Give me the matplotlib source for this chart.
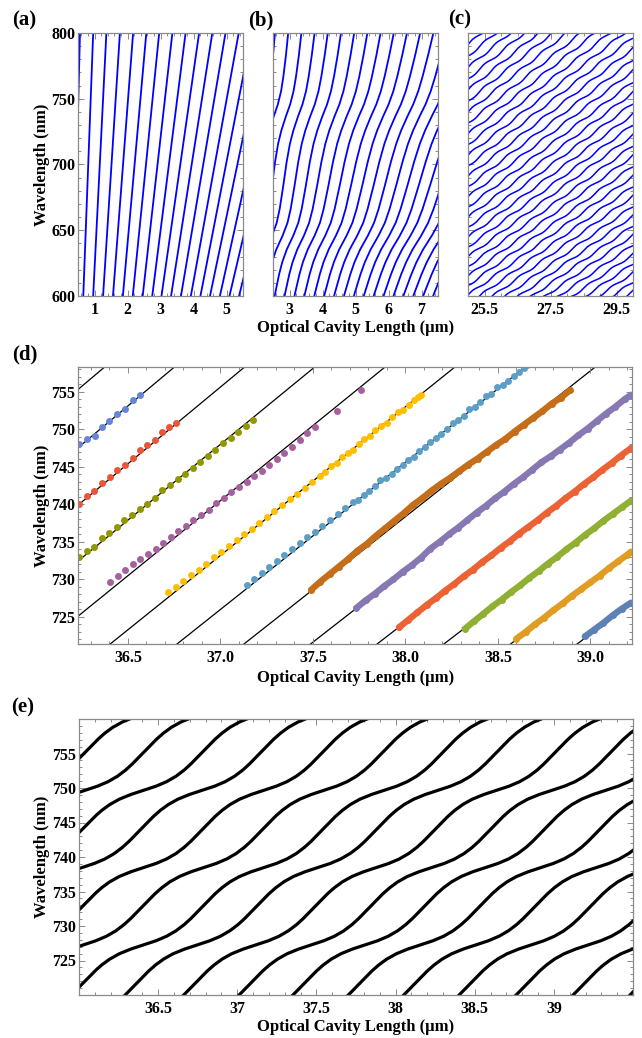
import numpy as np
import matplotlib.pyplot as plt
from matplotlib.ticker import MultipleLocator, FixedLocator, FixedFormatter

plt.rcParams['font.family'] = ['Liberation Serif', 'DejaVu Serif']
plt.rcParams['font.weight'] = 'bold'

# ---------------------------------------------------------------- data
# (a) bare cavity modes: optical length (um) where each mode sits at 600 nm / 800 nm
a_L600 = [0.36, 0.66, 0.96, 1.26, 1.56, 1.86, 2.16, 2.46, 2.75, 3.03, 3.32, 3.62,
          3.92, 4.21, 4.50, 4.80, 5.09, 5.38]
a_L800 = [0.56, 0.96, 1.36, 1.77, 2.17, 2.57, 2.96, 3.36, 3.76, 4.17, 4.57, 4.97,
          5.37, 5.76, 6.16, 6.56, 6.96, 7.36]

# (b) same modes over 2.5-7.5 um, plus the shift picked up at the two resonances
b_L600 = [1.86, 2.16, 2.46, 2.76, 3.06, 3.36, 3.66, 3.96, 4.26, 4.56, 4.86, 5.16,
          5.46, 5.76, 6.06, 6.36, 6.66, 6.96, 7.26, 7.56, 7.86, 8.16]
b_L800 = [2.56, 2.96, 3.36, 3.76, 4.16, 4.56, 4.96, 5.36, 5.76, 6.16, 6.56, 6.96,
          7.36, 7.76, 8.16, 8.56, 8.96, 9.36, 9.76, 10.16, 10.56, 10.96]
b_jog_lam = [595, 600, 615, 625, 635, 645, 655, 665, 680, 700, 715, 725, 735, 745,
             755, 765, 780, 805]
b_jog_dL = [-0.81, -0.81, -0.78, -0.74, -0.66, -0.53, -0.43, -0.39, -0.37, -0.36,
            -0.33, -0.28, -0.20, -0.10, -0.04, -0.015, 0.0, 0.0]

# (c) wavy modes, wavelength at L = 25 um and L = 30 um
c_lam_left = [800.0, 791.2, 782.5, 773.8, 765.2, 756.7, 748.3, 739.9, 731.6, 723.4,
              715.2, 707.1, 699.1, 691.2, 683.3, 675.5, 667.7, 660.0, 652.4, 644.8,
              637.3, 629.9, 622.5, 615.2, 608.0, 600.8, 593.7, 586.6, 579.6, 572.7,
              565.8, 559.0, 552.2, 545.5, 538.9, 532.3, 525.8, 519.3]
c_lam_right = [905.0, 895.5, 886.2, 876.9, 867.6, 858.5, 849.5, 840.5, 831.5, 822.8,
               813.9, 805.3, 796.7, 788.2, 779.7, 771.3, 762.9, 754.7, 746.5, 738.3,
               730.3, 722.3, 714.4, 706.6, 698.8, 691.1, 683.5, 675.9, 668.3, 660.9,
               653.5, 646.2, 638.9, 631.7, 624.6, 617.6, 610.6, 603.6]
c_period_L = 0.70
c_wave_amp = 0.6

# one period of the wiggle: fraction along L vs. wavelength deviation (fraction of period)
wave_f = [0, 0.105, 0.197, 0.276, 0.342, 0.395, 0.447, 0.5, 0.553, 0.605, 0.658,
          0.724, 0.803, 0.895, 1.0]
wave_dev = [0, -0.069, -0.112, -0.124, -0.110, -0.0825, -0.041, 0, 0.041, 0.0825,
            0.110, 0.124, 0.112, 0.069, 0]

# (d) cavity mode lines: wavelength at L = 36.0 and 39.5 um
d_line_lam36 = [750.5, 742.8, 735.2, 727.8, 720.5, 713.4, 706.4, 699.5, 692.8, 686.2,
                679.7, 673.4, 667.1]
d_line_lam395 = [823.5, 815.0, 806.7, 798.5, 790.5, 782.7, 775.0, 767.5, 760.1, 752.9,
                 745.8, 738.8, 732.0]

# (d) measured points
d_blue_L = [36.235, 36.280, 36.320, 36.360, 36.400, 36.440, 36.485, 36.525, 36.565]
d_blue_lam = [748.0, 748.7, 749.1, 750.3, 751.1, 752.1, 752.7, 753.9, 754.6]

d_red_L = [36.235, 36.277, 36.318, 36.361, 36.403, 36.442, 36.485, 36.525, 36.565,
           36.605, 36.645, 36.684, 36.724, 36.760]
d_red_lam = [740.1, 741.1, 741.8, 742.9, 743.7, 744.6, 745.3, 746.2, 747.3, 747.9,
             748.6, 749.7, 750.3, 750.9]

d_olive_L = [36.235, 36.276, 36.317, 36.358, 36.399, 36.440, 36.481, 36.522, 36.563,
             36.604, 36.645, 36.686, 36.727, 36.768, 36.809, 36.850, 36.891, 36.932,
             36.973, 37.014, 37.055, 37.096, 37.137, 37.175]
d_olive_lam = [733.0, 733.8, 734.3, 735.5, 736.2, 737.0, 737.9, 738.6, 739.4, 740.0,
               740.9, 741.9, 742.6, 743.4, 744.1, 744.8, 745.6, 746.4, 747.3, 748.2,
               748.9, 749.6, 750.4, 751.3]

d_magenta_L = [36.403, 36.444, 36.485, 36.526, 36.567, 36.608, 36.649, 36.690, 36.731,
               36.772, 36.813, 36.854, 36.895, 36.936, 36.977, 37.018, 37.059, 37.100,
               37.141, 37.182, 37.223, 37.264, 37.305, 37.346, 37.387, 37.428, 37.469,
               37.510, 37.630, 37.760]
d_magenta_lam = [729.7, 730.5, 731.2, 732.0, 732.7, 733.4, 734.1, 734.9, 735.7, 736.4,
                 737.1, 737.9, 738.6, 739.3, 740.2, 740.8, 741.6, 742.3, 743.0, 743.8,
                 744.5, 745.3, 746.0, 746.9, 747.7, 748.6, 749.5, 750.3, 752.5, 755.2]

d_gold_L = [36.718, 36.759, 36.800, 36.841, 36.882, 36.923, 36.964, 37.005, 37.046,
            37.087, 37.128, 37.169, 37.210, 37.251, 37.292, 37.333, 37.374, 37.415,
            37.456, 37.497, 37.538, 37.568, 37.598, 37.628, 37.658, 37.688, 37.718,
            37.748, 37.778, 37.808, 37.838, 37.868, 37.898, 37.928, 37.958, 37.988,
            38.018, 38.048, 38.070, 38.086]
d_gold_lam = [728.3, 729.0, 729.8, 730.6, 731.3, 732.1, 733.0, 733.7, 734.5, 735.2,
              736.0, 736.7, 737.5, 738.3, 739.1, 739.9, 740.7, 741.4, 742.2, 743.0,
              743.8, 744.3, 745.1, 745.5, 746.3, 746.9, 747.3, 748.1, 748.7, 749.1,
              749.9, 750.5, 750.9, 751.7, 752.3, 752.6, 753.2, 753.9, 754.3, 754.6]

d_ltblue_L = [37.141, 37.182, 37.223, 37.264, 37.305, 37.346, 37.387, 37.428, 37.469,
              37.510, 37.551, 37.592, 37.633, 37.674, 37.715, 37.745, 37.775, 37.805,
              37.835, 37.865, 37.895, 37.925, 37.955, 37.985, 38.015, 38.045, 38.075,
              38.105, 38.135, 38.165, 38.195, 38.225, 38.255, 38.285, 38.315, 38.345,
              38.375, 38.405, 38.435, 38.465, 38.495, 38.525, 38.555, 38.585, 38.615,
              38.640, 38.655]
d_ltblue_lam = [729.3, 730.1, 730.9, 731.6, 732.4, 733.2, 734.0, 734.8, 735.6, 736.3,
                737.1, 737.9, 738.7, 739.5, 740.3, 740.6, 741.2, 741.8, 742.4, 743.2,
                743.5, 744.1, 744.7, 745.3, 745.9, 746.3, 747.1, 747.7, 748.3, 748.9,
                749.4, 750.0, 750.9, 751.2, 751.8, 752.7, 753.0, 753.6, 754.5, 754.7,
                755.6, 755.9, 756.5, 757.1, 757.7, 758.2, 758.5]

d_brown_L = [37.49, 37.54, 37.59, 37.64, 37.69, 37.74, 37.79, 37.84, 37.89, 37.94,
             37.99, 38.04, 38.09, 38.14, 38.19, 38.24, 38.29, 38.34, 38.39, 38.44,
             38.49, 38.54, 38.59, 38.64, 38.69, 38.74, 38.79, 38.84, 38.89]
d_brown_lam = [728.6, 729.7, 730.7, 731.7, 732.7, 733.8, 734.7, 735.8, 736.8, 737.8,
               738.8, 739.9, 740.8, 741.8, 742.7, 743.5, 744.4, 745.3, 746.1, 747.0,
               747.9, 748.7, 749.7, 750.6, 751.5, 752.4, 753.4, 754.2, 755.2]

d_purple_L = [37.735, 37.785, 37.835, 37.885, 37.935, 37.985, 38.035, 38.085, 38.135,
              38.185, 38.235, 38.285, 38.335, 38.385, 38.435, 38.485, 38.535, 38.585,
              38.635, 38.685, 38.735, 38.785, 38.835, 38.885, 38.935, 38.985, 39.035,
              39.085, 39.135, 39.185, 39.22]
d_purple_lam = [726.2, 727.2, 728.1, 729.1, 730.0, 731.0, 731.9, 732.9, 734.1, 735.0,
                736.0, 736.9, 737.9, 738.9, 739.8, 740.8, 741.7, 742.7, 743.6, 744.6,
                745.6, 746.4, 747.3, 748.2, 749.2, 750.1, 751.1, 752.1, 753.0, 754.0,
                754.6]

d_orred_L = [37.965, 38.015, 38.065, 38.115, 38.165, 38.215, 38.265, 38.315, 38.365,
             38.415, 38.465, 38.515, 38.565, 38.615, 38.665, 38.715, 38.765, 38.815,
             38.865, 38.915, 38.965, 39.015, 39.065, 39.115, 39.165, 39.22]
d_orred_lam = [723.6, 724.6, 725.6, 726.6, 727.5, 728.5, 729.4, 730.4, 731.3, 732.3,
               733.2, 734.2, 735.1, 736.1, 737.0, 737.9, 738.9, 739.8, 740.8, 741.7,
               742.7, 743.6, 744.6, 745.5, 746.5, 747.5]

d_green_L = [38.32, 38.37, 38.42, 38.47, 38.52, 38.57, 38.62, 38.67, 38.72, 38.77,
             38.82, 38.87, 38.92, 38.97, 39.02, 39.07, 39.12, 39.17, 39.22]
d_green_lam = [723.4, 724.4, 725.4, 726.4, 727.3, 728.3, 729.2, 730.2, 731.1, 732.1,
               733.0, 734.0, 734.9, 735.9, 736.8, 737.8, 738.7, 739.6, 740.5]

d_orange_L = [38.60, 38.65, 38.70, 38.75, 38.80, 38.85, 38.90, 38.95, 39.00, 39.05,
              39.10, 39.15, 39.20, 39.22]
d_orange_lam = [722.1, 723.0, 724.0, 724.9, 725.9, 726.8, 727.8, 728.7, 729.6, 730.5,
                731.5, 732.4, 733.3, 733.7]

d_steel_L = [38.97, 39.02, 39.07, 39.12, 39.17, 39.22]
d_steel_lam = [722.4, 723.3, 724.2, 725.2, 726.1, 726.9]

# (e) coupled-mode curves: L of each curve's flat point on the 738.4 nm band
e_center_L = [34.53, 34.90, 35.27, 35.64, 36.01, 36.40, 36.78, 37.16, 37.50, 37.87,
              38.22, 38.56, 38.91, 39.26, 39.61, 39.97, 40.33, 40.69]
e_band_lam = 738.4
e_period_lam = 11.2
e_period_L = 0.76
e_wave_amp = 0.75

# ---------------------------------------------------------------- figure
W, H = 642, 1038
fig = plt.figure(figsize=(W / 100, H / 100), dpi=100)


def box(l, t, r, b):
    return [l / W, 1 - b / H, (r - l) / W, (b - t) / H]


def wave(f):
    return np.interp(np.mod(f, 1.0), wave_f, wave_dev)


def frame(ax, lsize=11.5, xpad=4.5):
    for sp in ax.spines.values():
        sp.set_color('#8a8a8a')
        sp.set_linewidth(0.9)
    ax.tick_params(which='both', direction='in', top=True, right=True,
                   color='#8a8a8a', width=0.7, labelsize=lsize)
    ax.tick_params(which='major', length=4)
    ax.tick_params(which='minor', length=2)
    ax.tick_params(axis='x', pad=xpad)
    ax.tick_params(axis='y', pad=2)


blue = '#0000ff'

# (a)
ax_a = fig.add_axes(box(78, 33, 243, 296))
for l6, l8 in zip(a_L600, a_L800):
    ax_a.plot([l6, l8], [600, 800], color=blue, lw=1.3)
ax_a.set_xlim(0.5, 5.5)
ax_a.set_ylim(600, 800)
ax_a.xaxis.set_major_locator(FixedLocator([1, 2, 3, 4, 5]))
ax_a.xaxis.set_minor_locator(MultipleLocator(0.2))
ax_a.yaxis.set_major_locator(MultipleLocator(50))
ax_a.yaxis.set_minor_locator(MultipleLocator(10))
frame(ax_a)

# (b)
ax_b = fig.add_axes(box(273, 33, 438, 296))
lam_b = np.linspace(595, 805, 500)
jog = np.interp(lam_b, b_jog_lam, b_jog_dL)
for l6, l8 in zip(b_L600, b_L800):
    ax_b.plot(l6 + (l8 - l6) * (lam_b - 600) / 200 + jog, lam_b, color=blue, lw=1.3)
ax_b.set_xlim(2.5, 7.5)
ax_b.set_ylim(600, 800)
ax_b.xaxis.set_major_locator(FixedLocator([3, 4, 5, 6, 7]))
ax_b.xaxis.set_minor_locator(MultipleLocator(0.2))
ax_b.yaxis.set_major_locator(MultipleLocator(50))
ax_b.yaxis.set_minor_locator(MultipleLocator(10))
frame(ax_b)
ax_b.tick_params(labelleft=False)

# (c)
ax_c = fig.add_axes(box(468, 33, 633, 296))
Lc = np.linspace(25, 30, 700)
for k, (l0, l1) in enumerate(zip(c_lam_left, c_lam_right)):
    base = l0 + (l1 - l0) * (Lc - 25) / 5
    rise = (l1 - l0) / 5 * c_period_L * c_wave_amp
    ax_c.plot(Lc, base + rise * wave((Lc - 25) / c_period_L + 0.5 * k),
              color=blue, lw=1.1)
ax_c.set_xlim(25, 30)
ax_c.set_ylim(600, 800)
ax_c.xaxis.set_major_locator(FixedLocator([25.5, 27.5, 29.5]))
ax_c.xaxis.set_minor_locator(MultipleLocator(0.5))
ax_c.yaxis.set_major_locator(MultipleLocator(50))
ax_c.yaxis.set_minor_locator(MultipleLocator(10))
frame(ax_c)
ax_c.tick_params(labelleft=False)

# (d)
ax_d = fig.add_axes(box(78, 367, 632, 644))
for l36, l395 in zip(d_line_lam36, d_line_lam395):
    ax_d.plot([36.0, 39.5], [l36, l395], color='black', lw=0.9, zorder=1)

sparse = [(d_blue_L, d_blue_lam, '#6685d9'),
          (d_red_L, d_red_lam, '#e95536'),
          (d_olive_L, d_olive_lam, '#929600'),
          (d_magenta_L, d_magenta_lam, '#a5609d'),
          (d_gold_L, d_gold_lam, '#ffbf00'),
          (d_ltblue_L, d_ltblue_lam, '#5d9ec7')]
dense = [(d_brown_L, d_brown_lam, '#c56e1a'),
         (d_purple_L, d_purple_lam, '#8778b3'),
         (d_orred_L, d_orred_lam, '#eb6235'),
         (d_green_L, d_green_lam, '#8fb032'),
         (d_orange_L, d_orange_lam, '#e19c24'),
         (d_steel_L, d_steel_lam, '#5e81b5')]
for xs, ys, col in sparse:
    ax_d.plot(xs, ys, 'o', color=col, ms=5.0, mec='none', zorder=2)
for xs, ys, col in dense:
    ax_d.plot(xs, ys, '-o', color=col, ms=5.0, mec='none', lw=4.6,
              solid_capstyle='round', zorder=2)
ax_d.set_xlim(36.23, 39.225)
ax_d.set_ylim(721.4, 758.3)
ax_d.xaxis.set_major_locator(MultipleLocator(0.5))
ax_d.xaxis.set_major_formatter('{x:.1f}')
ax_d.xaxis.set_minor_locator(MultipleLocator(0.1))
ax_d.yaxis.set_major_locator(MultipleLocator(5))
ax_d.yaxis.set_minor_locator(MultipleLocator(1))
frame(ax_d, xpad=4)

# (e)
ax_e = fig.add_axes(box(79, 719, 633, 995))
Le = np.linspace(35.9, 39.6, 1500)
for Lr in e_center_L:
    f = (Le - Lr) / e_period_L
    lam = e_band_lam + e_period_lam * (f + e_wave_amp * wave(f))
    ax_e.plot(Le, lam, color='black', lw=2.3)
ax_e.set_xlim(36.0, 39.5)
ax_e.set_ylim(720, 760)
e_ticks = [36.5, 37, 37.5, 38, 38.5, 39]
ax_e.xaxis.set_major_locator(FixedLocator(e_ticks))
ax_e.xaxis.set_major_formatter(FixedFormatter(['36.5', '37', '37.5', '38', '38.5', '39']))
ax_e.xaxis.set_minor_locator(MultipleLocator(0.1))
ax_e.yaxis.set_major_locator(FixedLocator([725, 730, 735, 740, 745, 750, 755]))
ax_e.yaxis.set_minor_locator(MultipleLocator(1))
frame(ax_e, xpad=4)

# ---------------------------------------------------------------- text
def put(px, py, s, size, rot=0):
    fig.text(px / W, 1 - py / H, s, ha='center', va='center', fontsize=size,
             fontweight='bold', rotation=rot)


put(24, 20, '(a)', 15)
put(261, 20, '(b)', 15)
put(460, 19, '(c)', 15)
put(25, 354, '(d)', 15)
put(23, 707, '(e)', 15)

put(42, 165, 'Wavelength (nm)', 12, 90)
put(42, 506, 'Wavelength (nm)', 12, 90)
put(42, 857, 'Wavelength (nm)', 12, 90)

put(356, 328, 'Optical Cavity Length (μm)', 12)
put(356, 678, 'Optical Cavity Length (μm)', 12)
put(356, 1027, 'Optical Cavity Length (μm)', 12)

fig.savefig('out.png', dpi=100)
